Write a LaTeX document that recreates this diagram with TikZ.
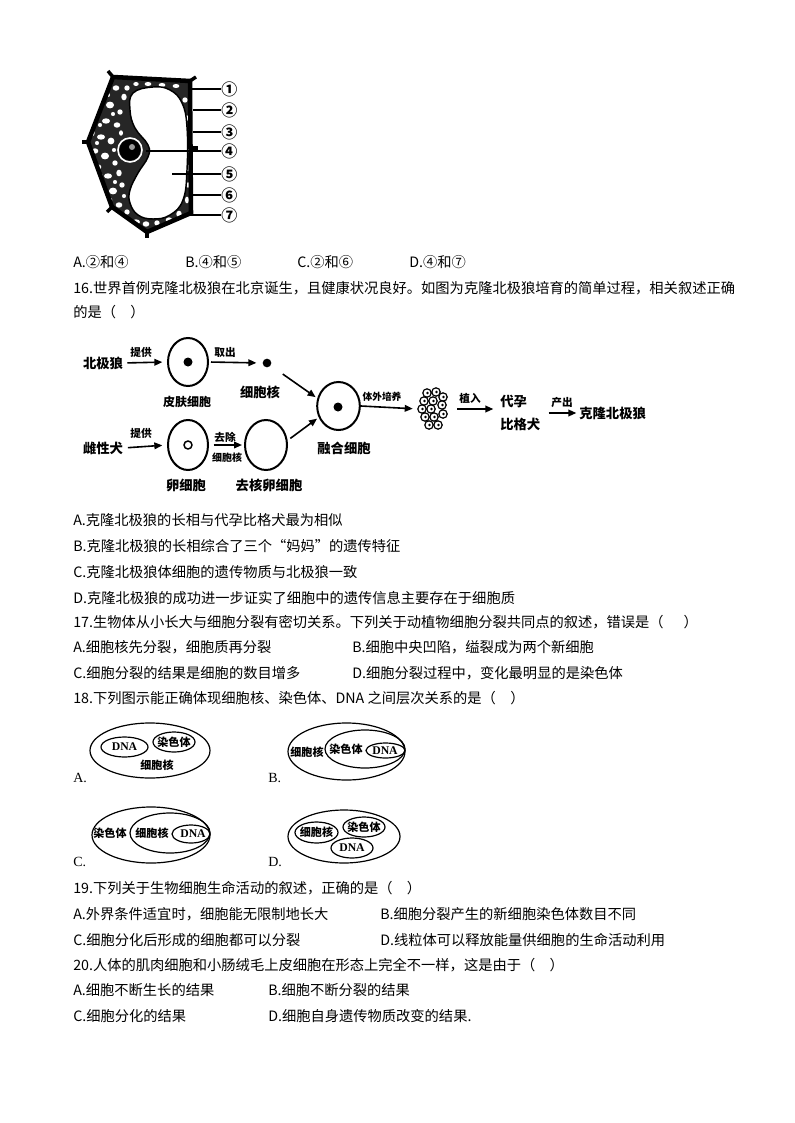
\documentclass[tikz,border=0pt]{standalone}
\usepackage{fontspec}
\setmainfont{Noto Sans CJK SC}
\newfontfamily\lser{Liberation Serif}
\usetikzlibrary{arrows.meta,shapes.geometric}
\begin{document}
\begin{tikzpicture}[x=0.75pt,y=-0.75pt,
 txt/.style={anchor=west,inner sep=0pt,font=\fontsize{10.7pt}{12pt}\selectfont},
 lab/.style={inner sep=0pt,font=\fontsize{10pt}{12pt}\selectfont\bfseries},
 slab/.style={inner sep=0pt,font=\fontsize{8pt}{9pt}\selectfont\bfseries},
 cellov/.style={draw,ellipse,line width=1.5pt,inner sep=0pt},
 arr/.style={-{Triangle[length=6pt,width=5pt]},line width=1.2pt},
 ring/.style={line width=0.9pt},
 etx/.style={inner sep=0pt,font=\fontsize{8.3pt}{9pt}\selectfont\bfseries},
 dtx/.style={inner sep=0pt,font=\lser\fontsize{8.8pt}{9pt}\selectfont\bfseries},
 optl/.style={anchor=west,inner sep=0pt,font=\lser\fontsize{10.5pt}{12pt}\selectfont},
 numl/.style={anchor=west,inner sep=0pt,font=\fontsize{12pt}{12pt}\selectfont\bfseries},
 lead/.style={line width=0.9pt}
]
\path[use as bounding box,fill=white] (0,0) rectangle (794,1123);

% ---------- plant cell ----------
\fill[black!85] (113,77) -- (190,81) -- (191,213) -- (147,232) -- (112,207) -- (88,142) -- cycle;
\foreach \x/\y/\a/\b in {105/90/3/2,116/88/2.5/2,124/97/2/2.5,99/103/2.5/2,110/105/3/2.5,120/112/2/2,
  96/117/2/2.5,106/121/3/2,117/125/2.5/2,92/133/2/2.5,101/137/3/2,111/141/2.5/2.5,
  95/151/2.5/2,105/156/3/2.5,115/163/2/2,98/167/2.5/2,108/176/3/2,119/173/2/2.5,
  103/187/2.5/2,113/191/3/2.5,122/185/2/2,109/200/2.5/2,119/205/2.5/2,127/212/2/2,
  136/222/3/2,146/224/2.5/2,157/223/2/2,169/220/2.5/2,179/214/2/2.5,187/200/1.5/2.5,
  188/185/1.5/2,188/168/1.5/2.5,188/150/1.5/2,188/135/1.5/2.5,187/118/1.5/2,185/100/2/2,
  176/86/2.5/1.5,162/85/2.5/1.5,148/84/2.5/1.5,136/84/2/1.5,127/88/2/2,
  100/125/1.5/1.5,113/114/1.5/1.5,121/133/1.5/2,97/143/1.5/1.5,114/150/1.5/1.5,
  101/176/1.5/1.5,115/182/1.5/1.5,113/211/1.5/1.5,124/196/1.5/1.5,108/95/1.5/1.5}
  \fill[white] (\x,\y) ellipse [x radius=1.35*\a, y radius=1.35*\b];
\draw[fill=white,line width=1.1pt] plot[smooth cycle,tension=0.7] coordinates {(153,87) (170,90) (182,103) (187,127) (187,170) (183,200) (170,215) (153,219) (138,215) (130,203) (130,190) (138,173) (148,157) (148,145) (135,128) (130,110) (133,93)};
\draw[white,line width=1.2pt] (130,150) circle (12);
\fill (130,150) circle (10.5);
\fill[black!40] (132,147) circle (3);
\draw[line width=3.4pt,line join=miter] (113,77) -- (190,81) -- (191,213) -- (147,232) -- (112,207) -- (88,142) -- cycle;
\draw[line width=2.6pt] (113,77) -- (108,71);
\draw[line width=2.6pt] (190,81) -- (196,77);
\draw[line width=2.6pt] (88,142) -- (82,142);
\draw[line width=2.6pt] (112,207) -- (107,212);
\draw[line width=2.6pt] (147,232) -- (147,238);
\draw[line width=2.6pt] (191,148) -- (198,148);
\coordinate (p1) at (188,89);
\coordinate (p2) at (193,110);
\coordinate (p3) at (193,132);
\coordinate (p4) at (146,151);
\coordinate (p5) at (172,174);
\coordinate (p6) at (192,195);
\coordinate (p7) at (189,215);
\node[numl] (n1) at (221,89) {①};
\node[numl] (n2) at (221,110) {②};
\node[numl] (n3) at (221,132) {③};
\node[numl] (n4) at (221,151) {④};
\node[numl] (n5) at (221,174) {⑤};
\node[numl] (n6) at (221,195) {⑥};
\node[numl] (n7) at (221,215) {⑦};
\foreach \i in {1,...,7} \draw[lead] (p\i) -- (n\i.west);

% ---------- text ----------
\node[txt] (q15a) at (73,262) {A.②和④};
\node[txt] (q15b) at (185,262) {B.④和⑤};
\node[txt] (q15c) at (297,262) {C.②和⑥};
\node[txt] (q15d) at (409,262) {D.④和⑦};
\node[txt] (q16) at (73,288) {16.世界首例克隆北极狼在北京诞生，且健康状况良好。如图为克隆北极狼培育的简单过程，相关叙述正确};
\node[txt] (q16b) at (73,312) {的是（\hspace{1em}）};

% ---------- cloning diagram ----------
\node[lab] (wolf) at (103,363) {北极狼};
\node[cellov,minimum width=30pt,minimum height=36pt] (skin) at (188,362) {};
\fill (skin.center) circle (4.5);
\node[inner sep=0pt,font=\fontsize{9pt}{10pt}\selectfont\bfseries] (skinl) at (187,402) {皮肤细胞};
\node[circle,fill=black,inner sep=0pt,minimum size=6.5pt] (nucdot) at (267,363) {};
\node[lab] (nucl) at (260,392) {细胞核};
\node[cellov,minimum width=32pt,minimum height=36pt] (fused) at (338.5,406) {};
\fill (338,407) circle (4.5);
\node[lab] (fusedl) at (344,448) {融合细胞};
\node[lab] (dog) at (103,448) {雌性犬};
\node[cellov,minimum width=30pt,minimum height=37.5pt] (egg) at (188,445) {};
\draw[line width=1.1pt] (egg.center) circle (4);
\node[lab] (eggl) at (186,485) {卵细胞};
\node[cellov,minimum width=31.5pt,minimum height=37.5pt] (enuc) at (266,445) {};
\node[lab] (enucl) at (269,485) {去核卵细胞};
\node[inner sep=0pt,minimum width=22pt,minimum height=32pt] (cluster) at (433,409) {};
\foreach \dx/\dy in {-6/-16,3/-17,10/-12,-9/-8,0/-8,9/-4,-11/0,-2/0,-8/8,1/8,10/5,-4/16,5/16}
 {\draw[line width=0.9pt,fill=white] ([shift={(\dx,\dy)}]cluster.center) circle (4.2);
  \fill ([shift={(\dx+0.5,\dy)}]cluster.center) circle (1.4);}
\node[lab,anchor=west,align=left,font=\fontsize{10pt}{17pt}\selectfont\bfseries] (surr) at (500,413) {代孕\\比格犬};
\node[lab,anchor=west] (clone) at (579,413) {克隆北极狼};

\draw[arr,shorten <=3pt,shorten >=3.5pt] (wolf.east) -- (skin.west);
\node[slab] (a1) at (141,352) {提供};
\draw[arr,shorten <=1.5pt,shorten >=4.5pt] (skin.east) -- (nucdot.west);
\node[slab] (a2) at (225,352) {取出};
\draw[arr,shorten <=11pt,shorten >=1.5pt] (nucdot) -- (fused.160);
\draw[arr,shorten <=3.5pt,shorten >=3.5pt] (dog.east) -- (egg.west);
\node[slab] (a3) at (141,433) {提供};
\draw[arr,shorten <=3.5pt,shorten >=1.5pt] (egg.east) -- (enuc.west);
\node[slab] (a4) at (225,437) {去除};
\node[inner sep=0pt,font=\fontsize{7.5pt}{8pt}\selectfont\bfseries] (a5) at (227,458) {细胞核};
\draw[arr,shorten <=2.5pt,shorten >=1.5pt] (enuc.12) -- (fused.210);
\draw[arr,shorten >=4pt] (fused.east) -- (cluster.west);
\node[inner sep=0pt,font=\fontsize{7.3pt}{8pt}\selectfont\bfseries] (a6) at (382,397) {体外培养};
\draw[arr,shorten <=7pt,shorten >=5pt] (cluster.east) -- (cluster.east -| surr.west);
\node[slab] (a7) at (470,398) {植入};
\draw[arr,shorten <=6pt,shorten >=2pt] (surr.east) -- (clone.west);
\node[slab] (a8) at (562,402) {产出};

% ---------- options 16 ----------
\node[txt] (o16a) at (73,520) {A.克隆北极狼的长相与代孕比格犬最为相似};
\node[txt] (o16b) at (73,546) {B.克隆北极狼的长相综合了三个“妈妈”的遗传特征};
\node[txt] (o16c) at (73,572) {C.克隆北极狼体细胞的遗传物质与北极狼一致};
\node[txt] (o16d) at (73,598) {D.克隆北极狼的成功进一步证实了细胞中的遗传信息主要存在于细胞质};
\node[txt] (q17) at (73,622) {17.生物体从小长大与细胞分裂有密切关系。下列关于动植物细胞分裂共同点的叙述，错误是（\hspace{1.4em}）};
\node[txt] (o17a) at (73,647) {A.细胞核先分裂，细胞质再分裂};
\node[txt] (o17b) at (352,647) {B.细胞中央凹陷，缢裂成为两个新细胞};
\node[txt] (o17c) at (73,673) {C.细胞分裂的结果是细胞的数目增多};
\node[txt] (o17d) at (352,673) {D.细胞分裂过程中，变化最明显的是染色体};
\node[txt] (q18) at (73,698) {18.下列图示能正确体现细胞核、染色体、DNA 之间层次关系的是（\hspace{1em}）};

% ---------- Q18 ellipses ----------
\draw[ring] (150,750.5) ellipse [x radius=60, y radius=27.5];
\draw[ring] (124.5,747) ellipse [x radius=23.5, y radius=10];
\draw[ring] (174,742) ellipse [x radius=21, y radius=10];
\node[dtx] (adna) at (124.5,747) {DNA};
\node[etx] (achr) at (174,742) {染色体};
\node[etx] (anuc) at (157,765) {细胞核};
\node[optl] (la) at (73,778) {A.};

\draw[ring] (346.5,751.5) ellipse [x radius=58.5, y radius=28.5];
\draw[ring] (365,749) ellipse [x radius=40, y radius=19];
\draw[ring] (385.5,750.5) ellipse [x radius=19.5, y radius=7.5];
\node[etx] (bnuc) at (307,752) {细胞核};
\node[etx] (bchr) at (346,749) {染色体};
\node[dtx] (bdna) at (385,751) {DNA};
\node[optl] (lb) at (268,778) {B.};

\draw[ring] (151,835) ellipse [x radius=59, y radius=28];
\draw[ring] (170,833) ellipse [x radius=40, y radius=20];
\draw[ring] (191,834) ellipse [x radius=19, y radius=9];
\node[etx] (cchr) at (110,833) {染色体};
\node[etx] (cnuc) at (152,833) {细胞核};
\node[dtx] (cdna) at (193,834) {DNA};
\node[optl] (lc) at (73,862) {C.};

\draw[ring] (344,836.5) ellipse [x radius=56, y radius=26.5];
\draw[ring] (316.5,832.5) ellipse [x radius=21.5, y radius=10.5];
\draw[ring] (364,827) ellipse [x radius=21, y radius=10];
\draw[ring] (352,848) ellipse [x radius=21, y radius=10];
\node[etx] (dnuc) at (316.5,832.5) {细胞核};
\node[etx] (dchr) at (364,827) {染色体};
\node[dtx] (ddna) at (352,848) {DNA};
\node[optl] (ld) at (268,862) {D.};

% ---------- Q19, Q20 ----------
\node[txt] (q19) at (73,888) {19.下列关于生物细胞生命活动的叙述，正确的是（\hspace{1em}）};
\node[txt] (o19a) at (73,914) {A.外界条件适宜时，细胞能无限制地长大};
\node[txt] (o19b) at (380,914) {B.细胞分裂产生的新细胞染色体数目不同};
\node[txt] (o19c) at (73,940) {C.细胞分化后形成的细胞都可以分裂};
\node[txt] (o19d) at (380,940) {D.线粒体可以释放能量供细胞的生命活动利用};
\node[txt] (q20) at (73,965) {20.人体的肌肉细胞和小肠绒毛上皮细胞在形态上完全不一样，这是由于（\hspace{1em}）};
\node[txt] (o20a) at (73,990) {A.细胞不断生长的结果};
\node[txt] (o20b) at (268,990) {B.细胞不断分裂的结果};
\node[txt] (o20c) at (73,1016) {C.细胞分化的结果};
\node[txt] (o20d) at (268,1016) {D.细胞自身遗传物质改变的结果.};
\end{tikzpicture}
\end{document}
